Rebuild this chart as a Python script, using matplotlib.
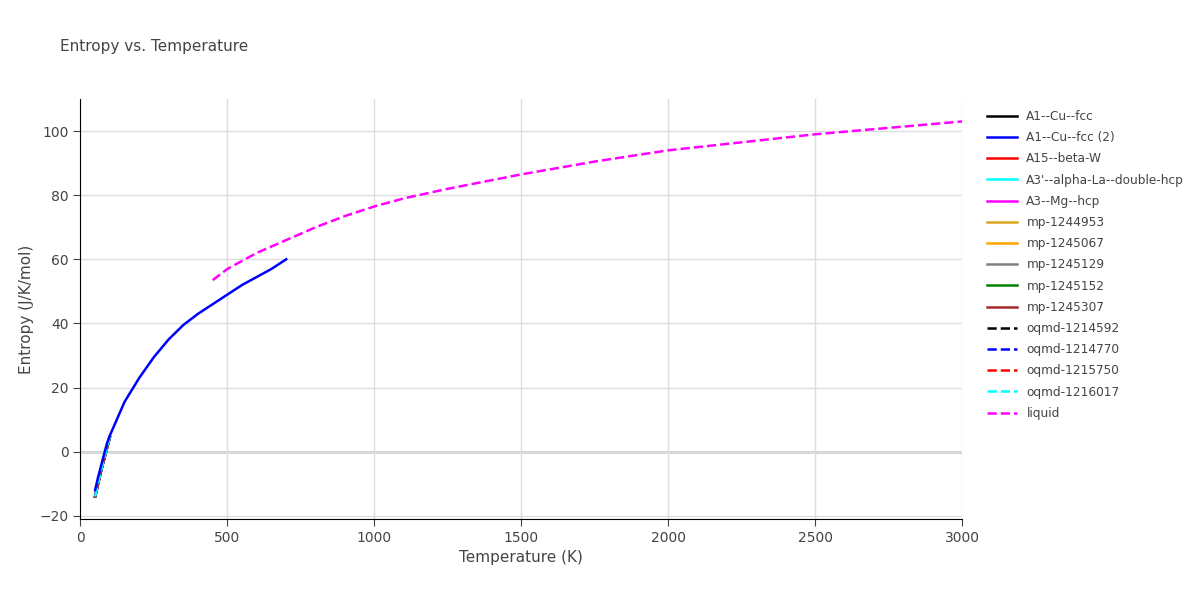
import numpy as np
import matplotlib.pyplot as plt

# low-temperature short curves (50-100 K)
t_low = [50, 60, 70, 80, 90, 100]
s_low = [-14, -10, -6, -2.5, 1, 4.5]

t_cu2 = [50, 60, 70, 80, 90, 100, 150, 200, 250, 300, 350, 400, 450, 500, 550, 600, 650, 700]
s_cu2 = [-12, -8, -4.5, -1, 2.5, 5, 15.5, 23, 29.5, 35, 39.5, 43, 46, 49, 52, 54.5, 57, 60]

t_liq = [450, 500, 600, 700, 800, 900, 1000, 1100, 1250, 1500, 1750, 2000, 2250, 2500, 2750, 3000]
s_liq = [53.5, 57, 62, 66, 70, 73.5, 76.5, 79, 82, 86.5, 90.5, 94, 96.5, 99, 101, 103]

names = ['A1--Cu--fcc', 'A1--Cu--fcc (2)', 'A15--beta-W', "A3'--alpha-La--double-hcp",
         'A3--Mg--hcp', 'mp-1244953', 'mp-1245067', 'mp-1245129', 'mp-1245152', 'mp-1245307',
         'oqmd-1214592', 'oqmd-1214770', 'oqmd-1215750', 'oqmd-1216017', 'liquid']
colors = ['black', 'blue', 'red', 'cyan', 'magenta', 'goldenrod', 'orange', 'gray', 'green',
          'brown', 'black', 'blue', 'red', 'cyan', 'magenta']

fig, ax = plt.subplots(figsize=(12, 6), dpi=100)
fig.subplots_adjust(left=0.067, right=0.802, top=0.835, bottom=0.135)

for i, (n, c) in enumerate(zip(names, colors)):
    ls = '--' if n.startswith('oqmd') or n == 'liquid' else '-'
    if n == 'A1--Cu--fcc (2)':
        x, y = t_cu2, s_cu2
    elif n == 'liquid':
        x, y = t_liq, s_liq
    else:
        x, y = t_low, s_low
    ax.plot(x, y, color=c, linestyle=ls, linewidth=1.8, label=n, zorder=3 if i != 1 else 4)

ax.set_xlim(0, 3000)
ax.set_ylim(-21, 110)
ax.set_xticks([0, 500, 1000, 1500, 2000, 2500, 3000])
ax.set_yticks([-20, 0, 20, 40, 60, 80, 100])
ax.grid(True, color='#dddddd', linewidth=1)
ax.axhline(0, color='#cccccc', linewidth=2, zorder=1)
for s in ['top', 'right']:
    ax.spines[s].set_visible(False)
ax.spines['left'].set_color('black')
ax.spines['bottom'].set_color('black')
ax.tick_params(colors='#444444', labelsize=10, length=5)
ax.set_xlabel('Temperature (K)', color='#444444', fontsize=11)
ax.set_ylabel('Entropy (J/K/mol)', color='#444444', fontsize=11)
fig.text(0.05, 0.915, 'Entropy vs. Temperature', color='#444444', fontsize=11)
leg = ax.legend(loc='upper left', bbox_to_anchor=(1.015, 1.0), frameon=False, fontsize=8.7,
                labelcolor='#444444', handlelength=2.5, labelspacing=0.68)

plt.savefig('out.png', dpi=100)
